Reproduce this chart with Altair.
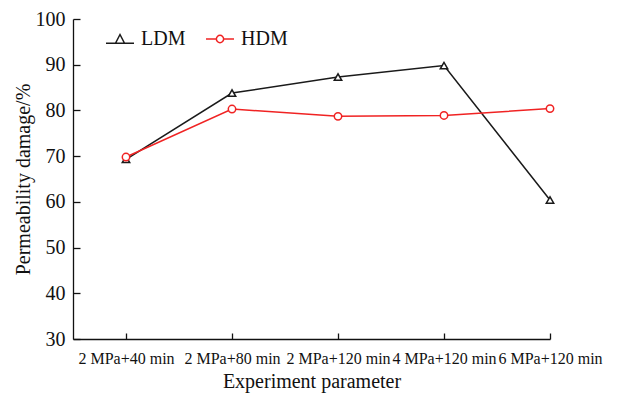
import altair as alt
import pandas as pd

categories = ["2 MPa+40 min", "2 MPa+80 min", "2 MPa+120 min", "4 MPa+120 min", "6 MPa+120 min"]
ldm_values = [69.3, 83.8, 87.3, 89.8, 60.4]
hdm_values = [69.8, 80.3, 78.7, 78.9, 80.4]
series_names = ["LDM", "HDM"]
series_colors = ["#1a1a1a", "#f02323"]
marker_shapes = ["triangle-up", "circle"]
legend_paths = [
    "M-1,0.3L1,0.3M0,-0.32L0.32,0.3L-0.32,0.3Z",
    "M-1,0L-0.26,0M0.26,0L1,0M0.26,0A0.26,0.26,0,1,1,-0.26,0A0.26,0.26,0,1,1,0.26,0Z",
]
legend_x = [32, 132]
y_ticks = [30, 40, 50, 60, 70, 80, 90, 100]
x_ticks = list(range(len(categories)))

rows = []
for i, c in enumerate(categories):
    rows.append({"idx": i, "cat": c, "series": "LDM", "value": ldm_values[i]})
    rows.append({"idx": i, "cat": c, "series": "HDM", "value": hdm_values[i]})
df = pd.DataFrame(rows)

label_expr = "[" + ",".join("'" + c + "'" for c in categories) + "][datum.value]"
FONT = "Liberation Serif"

x_scale = alt.Scale(domain=[-0.5, len(categories) - 1], nice=False, zero=False)
y_scale = alt.Scale(domain=[30, 100], nice=False, zero=False)
color_scale = alt.Scale(domain=series_names, range=series_colors)

x_main_axis = alt.Axis(
    orient="bottom", values=x_ticks, labelExpr=label_expr, ticks=False,
    labelPadding=11, labelFont=FONT, labelFontSize=16, labelColor="#111",
    labelOverlap=False, labelFlush=False, domainColor="#111", domainWidth=1.3,
    grid=False, title="Experiment parameter", titleFont=FONT, titleFontSize=20,
    titleFontWeight="normal", titleColor="#111", titlePadding=5,
)
y_main_axis = alt.Axis(
    orient="left", values=y_ticks, ticks=False, labelPadding=8,
    labelFont=FONT, labelFontSize=20, labelColor="#111",
    domainColor="#111", domainWidth=1.3, grid=False,
    title="Permeability damage/%", titleFont=FONT, titleFontSize=20,
    titleFontWeight="normal", titleColor="#111", titlePadding=2,
)
x_tick_axis = alt.Axis(
    orient="bottom", values=x_ticks, labels=False, domain=False, ticks=True,
    tickSize=6, tickColor="#111", tickWidth=1.3, offset=-6, grid=False, title=None,
)
y_tick_axis = alt.Axis(
    orient="left", values=y_ticks, labels=False, domain=False, ticks=True,
    tickSize=7, tickColor="#111", tickWidth=1.3, offset=-7, grid=False, title=None,
)

base = alt.Chart(df)

lines = base.mark_line(strokeWidth=1.5).encode(
    x=alt.X("idx:Q", scale=x_scale, axis=x_main_axis),
    y=alt.Y("value:Q", scale=y_scale, axis=y_main_axis),
    color=alt.Color("series:N", scale=color_scale, legend=None),
    detail="series:N",
)

points = base.mark_point(filled=True, fill="white", strokeWidth=1.5, size=55, opacity=1).encode(
    x=alt.X("idx:Q", scale=x_scale, axis=None),
    y=alt.Y("value:Q", scale=y_scale, axis=None),
    stroke=alt.Stroke("series:N", scale=color_scale, legend=None),
    shape=alt.Shape("series:N", scale=alt.Scale(domain=series_names, range=marker_shapes), legend=None),
)

legend_layers = []
for k, name in enumerate(series_names):
    lay = base.transform_filter(alt.datum.series == name).mark_point(
        filled=False, clip=True, size=784, strokeWidth=1.5, color=series_colors[k]
    ).encode(
        x=alt.X("idx:Q", scale=x_scale, axis=x_tick_axis if k == 0 else None),
        y=alt.YDatum(0, scale=y_scale, axis=y_tick_axis if k == 0 else None),
        shape=alt.Shape("series:N", scale=alt.Scale(domain=[name], range=[legend_paths[k]]), legend=alt.Legend(
            title=None, orient="none", legendX=legend_x[k], legendY=5, direction="horizontal",
            labelFont=FONT, labelFontSize=20, labelColor="#111", symbolSize=784,
            symbolStrokeWidth=1.5, symbolStrokeColor=series_colors[k], symbolFillColor="transparent",
            symbolOpacity=1, labelOffset=6, padding=0,
        )),
    )
    legend_layers.append(lay)

chart = alt.layer(lines, points, *legend_layers).resolve_scale(
    shape="independent"
).resolve_legend(
    shape="independent"
).resolve_axis(
    x="independent", y="independent"
).properties(
    width=477, height=320,
    padding={"left": 73, "top": 19, "right": 72, "bottom": 57},
    autosize=alt.AutoSizeParams(type="none"),
    background="white",
).configure(font=FONT).configure_view(stroke=None)

chart.save("out.html", embed_options={"renderer": "svg", "actions": False})
